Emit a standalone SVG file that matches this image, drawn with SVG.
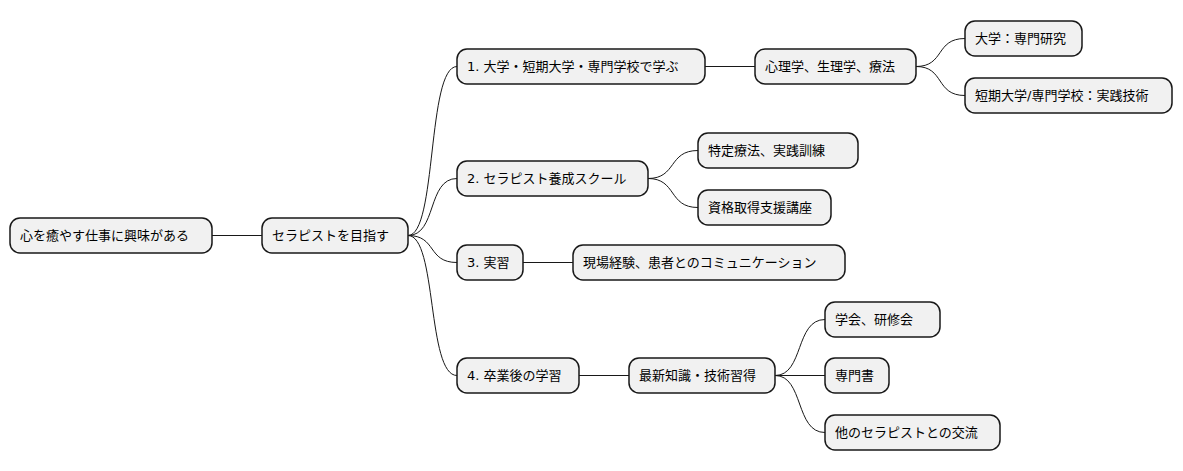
<svg xmlns="http://www.w3.org/2000/svg" width="1183" height="471" viewBox="0 0 1183 471">
<style>
rect{fill:#f1f1f1;stroke:#181818;stroke-width:1.5}
text{font-family:"DejaVu Sans","Noto Sans CJK JP",sans-serif;font-size:13px;fill:#000;dominant-baseline:central}
#edges path{fill:none;stroke:#181818;stroke-width:1}
</style>
<rect x="0" y="0" width="1183" height="471" style="fill:#fff;stroke:none"/>
<g id="edges">
<path d="M212,235.5 L262,235.5"/>
<path d="M408,235.5 C437,235.5 427,66.5 457,66.5"/>
<path d="M408,235.5 C437,235.5 427,178.5 457,178.5"/>
<path d="M408,235.5 C437,235.5 427,262.5 457,262.5"/>
<path d="M408,235.5 C437,235.5 427,375.5 457,375.5"/>
<path d="M705,66.5 L755,66.5"/>
<path d="M916,66.5 C945,66.5 935,38.5 965,38.5"/>
<path d="M916,66.5 C945,66.5 935,95.5 965,95.5"/>
<path d="M648,178.5 C677,178.5 668,150.5 698,150.5"/>
<path d="M648,178.5 C677,178.5 668,207.5 698,207.5"/>
<path d="M523,262.5 L573,262.5"/>
<path d="M579,375.5 L629,375.5"/>
<path d="M775,375.5 C804,375.5 795,319.5 825,319.5"/>
<path d="M775,375.5 L825,375.5"/>
<path d="M775,375.5 C804,375.5 795,432.5 825,432.5"/>
</g>
<g id="n1"><rect x="10" y="218" width="202" height="35" rx="10"/><text x="20" y="235.5">心を癒やす仕事に興味がある</text></g>
<g id="n2"><rect x="262" y="218" width="146" height="35" rx="10"/><text x="272" y="235.5">セラピストを目指す</text></g>
<g id="n3"><rect x="457" y="49" width="248" height="35" rx="10"/><text x="467" y="66.5">1. 大学・短期大学・専門学校で学ぶ</text></g>
<g id="n4"><rect x="755" y="49" width="161" height="35" rx="10"/><text x="765" y="66.5">心理学、生理学、療法</text></g>
<g id="n5"><rect x="965" y="21" width="117" height="35" rx="10"/><text x="975" y="38.5">大学：専門研究</text></g>
<g id="n6"><rect x="965" y="78" width="207" height="35" rx="10"/><text x="975" y="95.5">短期大学/専門学校：実践技術</text></g>
<g id="n7"><rect x="457" y="161" width="191" height="35" rx="10"/><text x="467" y="178.5">2. セラピスト養成スクール</text></g>
<g id="n8"><rect x="698" y="133" width="160" height="35" rx="10"/><text x="708" y="150.5">特定療法、実践訓練</text></g>
<g id="n9"><rect x="698" y="190" width="133" height="35" rx="10"/><text x="708" y="207.5">資格取得支援講座</text></g>
<g id="n10"><rect x="457" y="245" width="66" height="35" rx="10"/><text x="467" y="262.5">3. 実習</text></g>
<g id="n11"><rect x="573" y="245" width="272" height="35" rx="10"/><text x="583" y="262.5">現場経験、患者とのコミュニケーション</text></g>
<g id="n12"><rect x="457" y="358" width="122" height="35" rx="10"/><text x="467" y="375.5">4. 卒業後の学習</text></g>
<g id="n13"><rect x="629" y="358" width="146" height="35" rx="10"/><text x="639" y="375.5">最新知識・技術習得</text></g>
<g id="n14"><rect x="825" y="302" width="115" height="35" rx="10"/><text x="835" y="319.5">学会、研修会</text></g>
<g id="n15"><rect x="825" y="358" width="64" height="35" rx="10"/><text x="835" y="375.5">専門書</text></g>
<g id="n16"><rect x="825" y="415" width="175" height="35" rx="10"/><text x="835" y="432.5">他のセラピストとの交流</text></g>
</svg>
